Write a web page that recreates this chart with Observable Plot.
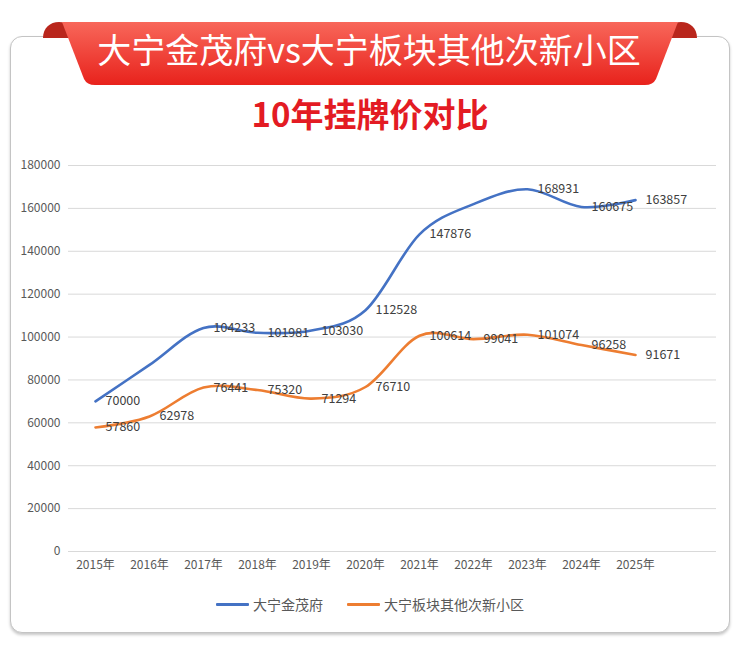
<!DOCTYPE html>
<html>
<head>
<meta charset="utf-8">
<script src="https://cdn.jsdelivr.net/npm/d3@7"></script>
<script src="https://cdn.jsdelivr.net/npm/@observablehq/plot@0.6"></script>
<style>
  html, body { margin: 0; padding: 0; background: #fff; }
  body { width: 740px; height: 654px; position: relative; overflow: hidden;
         font-family: "Noto Sans CJK SC", "Noto Sans", sans-serif; }
  #card { position: absolute; left: 10px; top: 36px; width: 718px; height: 595px;
          border: 1.5px solid #c4c4c4; border-radius: 12px;
          box-shadow: 0 2px 3px rgba(0,0,0,0.22); background: #fff; }
  #ribbon { position: absolute; left: 0; top: 0; }
  #subtitle { position: absolute; left: 0; width: 740px; top: 91px; text-align: center;
              font-size: 33px; font-weight: 700; color: #e31b23; line-height: 44px; }
  #chart { position: absolute; left: 10px; top: 150px; }
  #legend { position: absolute; left: 0; width: 740px; top: 594px; display: flex;
            justify-content: center; align-items: center; font-size: 14px; color: #595959; }
  .item { display: flex; align-items: center; margin: 0 12px; }
  .swatch { width: 33px; height: 3px; margin-right: 4px; border-radius: 1px; }
</style>
</head>
<body>
<div id="card"></div>
<svg id="ribbon" width="740" height="100">
  <defs>
    <linearGradient id="rg" x1="0" y1="0" x2="0" y2="1">
      <stop offset="0" stop-color="#f8675a"/>
      <stop offset="1" stop-color="#e8221c"/>
    </linearGradient>
  </defs>
  <path d="M43,38 C43,28 50,22 59,22 C68,22 75,28 77,38 Z" fill="#b9261c"/>
  <path d="M663,38 C665,28 672,22 681,22 C690,22 697,28 697,38 Z" fill="#b9261c"/>
  <path d="M62,22 L678,22 L656,79 Q653,85 645,85 L95,85 Q87,85 84,79 Z" fill="url(#rg)"/>
  <text x="369" y="54" text-anchor="middle" dominant-baseline="middle" fill="#fff"
        font-size="34" font-weight="400" font-family="Noto Sans CJK SC">大宁金茂府vs大宁板块其他次新小区</text>
</svg>
<div id="subtitle">10年挂牌价对比</div>
<div id="chart"></div>
<div id="legend"></div>
<script>
const years = [2015, 2016, 2017, 2018, 2019, 2020, 2021, 2022, 2023, 2024, 2025];
const seriesNames = ["大宁金茂府", "大宁板块其他次新小区"];
const seriesColors = ["#4472c4", "#ed7d31"];
const jinmaoValues = [70000, 87000, 104233, 101981, 103030, 112528, 147876, 162000, 168931, 160675, 163857];
const jinmaoLabeled = [true, false, true, true, true, true, true, false, true, true, true];
const othersValues = [57860, 62978, 76441, 75320, 71294, 76710, 100614, 99041, 101074, 96258, 91671];
const yTicks = [0, 20000, 40000, 60000, 80000, 100000, 120000, 140000, 160000, 180000];

const rows = [];
years.forEach((y, i) => {
  rows.push({year: y, value: jinmaoValues[i], series: seriesNames[0], labeled: jinmaoLabeled[i]});
});
years.forEach((y, i) => {
  rows.push({year: y, value: othersValues[i], series: seriesNames[1], labeled: true});
});

const chart = Plot.plot({
  width: 720,
  height: 430,
  marginLeft: 58,
  marginRight: 14,
  marginTop: 15,
  marginBottom: 29,
  style: {fontFamily: "Noto Sans CJK SC, sans-serif", background: "transparent"},
  x: {domain: [2014.5, 2026.5], ticks: years, tickFormat: d => `${d}年`, tickSize: 0, tickPadding: 10, label: null},
  y: {domain: [0, 180000], ticks: yTicks, tickFormat: d => String(d), tickSize: 0, tickPadding: 8, label: null},
  color: {domain: seriesNames, range: seriesColors},
  marks: [
    Plot.gridY(yTicks, {stroke: "#d9d9d9", strokeOpacity: 1, strokeWidth: 1}),
    Plot.line(rows, {x: "year", y: "value", z: "series", stroke: "series", strokeWidth: 2.6, curve: "cardinal"}),
    Plot.text(rows.filter(d => d.labeled), {x: "year", y: "value", text: d => String(d.value),
      dx: 10, textAnchor: "start", fill: "#404040", fontSize: 12.5}),
    Plot.axisX({ticks: years, tickFormat: d => `${d}年`, tickSize: 0, tickPadding: 9, fill: "#595959", fontSize: 12}),
    Plot.axisY({ticks: yTicks, tickFormat: d => String(d), tickSize: 0, tickPadding: 8, fill: "#595959", fontSize: 12})
  ]
});
document.getElementById("chart").appendChild(chart);

const legend = document.getElementById("legend");
seriesNames.forEach((name, i) => {
  const item = document.createElement("div");
  item.className = "item";
  const sw = document.createElement("div");
  sw.className = "swatch";
  sw.style.background = seriesColors[i];
  const t = document.createElement("span");
  t.textContent = name;
  item.appendChild(sw);
  item.appendChild(t);
  legend.appendChild(item);
});
</script>
</body>
</html>
